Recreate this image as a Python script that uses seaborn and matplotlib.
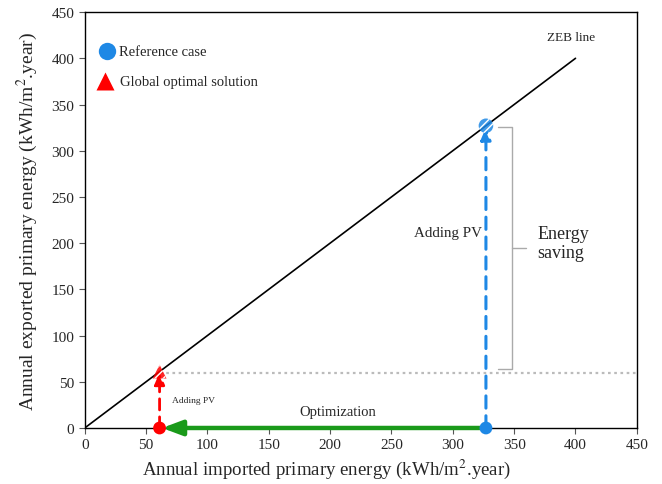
import matplotlib
matplotlib.use("Agg")
import matplotlib.pyplot as plt
import seaborn as sns
import pandas as pd

# Energy balance values (kWh/m2.year)
zeb_x = [0, 400]
zeb_y = [0, 400]
ref_import = 327
ref_export = 327
opt_import = 61
opt_export = 61
x_ticks = [0, 50, 100, 150, 200, 250, 300, 350, 400, 450]
y_ticks = [0, 50, 100, 150, 200, 250, 300, 350, 400, 450]

sns.set_style("ticks")
plt.rcParams["font.family"] = ["Liberation Serif", "DejaVu Serif"]
plt.rcParams["mathtext.fontset"] = "stix"
plt.rcParams["hatch.color"] = "white"

fig = plt.figure(figsize=(6.62, 4.85), dpi=100)
ax = fig.add_axes([0.128, 0.1155, 0.834, 0.8575])

blue = "#1E88E5"
red = "#FF0000"
green = "#1A9A1A"

# ZEB line
sns.lineplot(x=zeb_x, y=zeb_y, ax=ax, color="black", linewidth=1.2)
ax.text(377, 423, "ZEB line", fontsize=9.5, ha="left", va="center")

# Dotted level of the optimal export
ax.plot([opt_import, 450], [59.5, 59.5], color="#BBBBBB",
        linestyle=(0, (1.2, 1.6)), linewidth=1.6, zorder=1)

# Energy saving bracket
bx = 348
ax.plot([337, bx, bx, 337], [325.5, 325.5, 64, 64], color="#AAAAAA", linewidth=1.0)
mid = 195
ax.plot([bx, 359.5], [mid, mid], color="#AAAAAA", linewidth=1.0)
ax.text(369, 200, "Energy\nsaving", fontsize=13, ha="left", va="center",
        multialignment="left", linespacing=1.1)

# Adding PV arrows
ax.annotate("", xy=(ref_import, ref_export - 2), xytext=(ref_import, 0),
            arrowprops=dict(arrowstyle="-|>,head_length=0.7,head_width=0.3",
                            color=blue, linestyle=(0, (4, 2.5)), linewidth=2.2,
                            shrinkA=0, shrinkB=0))
ax.annotate("", xy=(opt_import, opt_export - 1), xytext=(opt_import, 0),
            arrowprops=dict(arrowstyle="-|>,head_length=0.7,head_width=0.3",
                            color=red, linestyle=(0, (4, 2.5)), linewidth=2.0,
                            shrinkA=0, shrinkB=0))
ax.text(296, 212, "Adding PV", fontsize=10.8, ha="center", va="center")
ax.text(71, 30, "Adding PV", fontsize=6.8, ha="left", va="center")

# Optimization arrow
ax.annotate("", xy=(opt_import + 2, 0), xytext=(ref_import, 0),
            arrowprops=dict(arrowstyle="-|>,head_length=1.2,head_width=0.45",
                            color=green, linewidth=3.2, shrinkA=0, shrinkB=0))
ax.text(206, 18, "Optimization", fontsize=10.5, ha="center", va="center")

# Start points and end points
pts = pd.DataFrame({"x": [ref_import, opt_import], "y": [0, 0], "case": ["ref", "opt"]})
sns.scatterplot(data=pts, x="x", y="y", hue="case", palette={"ref": blue, "opt": red},
                s=85, edgecolor="none", ax=ax, legend=False, zorder=5, clip_on=False)
ax.scatter([ref_import], [ref_export], s=110, marker="o", color=blue, alpha=0.85,
           hatch="////", edgecolor="none", zorder=5)
ax.scatter([opt_import], [opt_export], s=100, marker="^", color=red, alpha=0.85,
           hatch="////", edgecolor="none", zorder=5)

# Legend drawn as markers with text in axes coordinates
ax.plot([0.040], [0.906], marker="o", markersize=12.5, color=blue, markeredgecolor="none",
        transform=ax.transAxes, clip_on=False)
ax.text(0.0615, 0.906, "Reference case", fontsize=10.5, ha="left", va="center",
        transform=ax.transAxes)
ax.plot([0.036], [0.834], marker="^", markersize=13, color=red, markeredgecolor="none",
        transform=ax.transAxes, clip_on=False)
ax.text(0.063, 0.832, "Global optimal solution", fontsize=10.5, ha="left", va="center",
        transform=ax.transAxes)

ax.set_xlim(0, 450)
ax.set_ylim(0, 450)
ax.set_xticks(x_ticks)
ax.set_yticks(y_ticks)
ax.tick_params(labelsize=11, direction="out", length=4, width=0.8, color="#555555")
for s in ax.spines.values():
    s.set_color("black")
    s.set_linewidth(1.0)
ax.set_xlabel("Annual imported primary energy (kWh/m$^{2}$.year)", fontsize=13.6,
              va="center")
ax.xaxis.set_label_coords(0.437, -0.097)
ax.set_ylabel("Annual exported primary energy (kWh/m$^{2}$.year)", fontsize=14, labelpad=8)

fig.savefig("out.png", dpi=100)
